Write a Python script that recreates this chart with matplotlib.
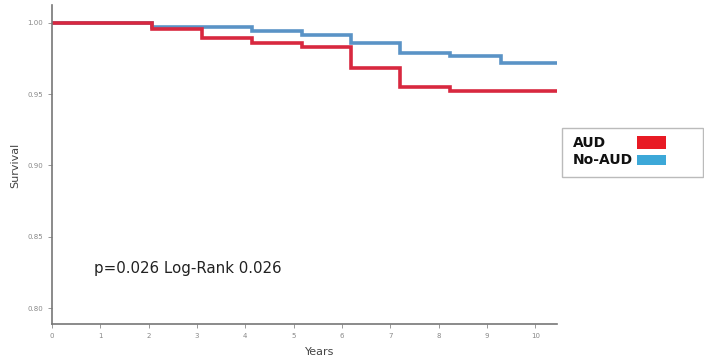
import matplotlib
matplotlib.use("Agg")
import matplotlib.pyplot as plt
from matplotlib.patches import Rectangle

# Data (Kaplan-Meier step values)
aud_times = [0, 2.07, 3.11, 4.14, 5.18, 6.19, 7.21, 8.24, 10.45]
aud_surv = [1.0, 0.9955, 0.989, 0.986, 0.983, 0.968, 0.955, 0.952, 0.952]
noaud_times = [0, 2.07, 4.14, 5.18, 6.19, 7.21, 8.24, 9.3, 10.45]
noaud_surv = [1.0, 0.9972, 0.9944, 0.9914, 0.986, 0.979, 0.9767, 0.9715, 0.9715]
x_ticks = list(range(0, 11))
y_ticks = [0.80, 0.85, 0.90, 0.95, 1.00]
y_tick_labels = ["0.80", "0.85", "0.90", "0.95", "1.00"]
annotation = "p=0.026 Log-Rank 0.026"
legend_labels = ["AUD", "No-AUD"]

fig = plt.figure(figsize=(7.04, 3.61), dpi=100)
W, H = 704, 361
left, right, top, bottom = 52, 557, 5, 324
ax = fig.add_axes([left / W, 1 - bottom / H, (right - left) / W, (bottom - top) / H])

red = "#d8283f"
blue = "#5a93c6"
ax.step(noaud_times, noaud_surv, where="post", color=blue, lw=2.6, solid_joinstyle="miter")
ax.step(aud_times, aud_surv, where="post", color=red, lw=2.6, solid_joinstyle="miter")

ax.set_xlim(0, 10.45)
ax.set_ylim(0.7888, 1.0124)
ax.set_xticks(x_ticks)
ax.set_xticklabels([str(t) for t in x_ticks])
ax.set_yticks(y_ticks)
ax.set_yticklabels(y_tick_labels)
ax.tick_params(axis="both", labelsize=5, colors="#888888", length=3, width=0.6)
for s in ["top", "right"]:
    ax.spines[s].set_visible(False)
for s in ["left", "bottom"]:
    ax.spines[s].set_color("#777777")
    ax.spines[s].set_linewidth(1.2)

fig.text(320 / W, 1 - 352 / H, "Years", fontsize=8, color="#444444", ha="center", va="center")
fig.text(15 / W, 1 - 165 / H, "Survival", fontsize=8, color="#444444", ha="center", va="center",
         rotation=90)

fig.text(94 / W, 1 - 268 / H, annotation, fontsize=10.8, color="#222222", ha="left", va="center")

# Legend drawn manually (text left, swatch right)
fig.patches.append(Rectangle((561.5 / W, 1 - 177 / H), 141 / W, 49.5 / H, transform=fig.transFigure,
                             facecolor="white", edgecolor="#bbbbbb", lw=1.0))
sw_colors = ["#e81a24", "#3ca8d8"]
ys = [143, 160]
sw_h = [13, 10]
for lab, c, yy, hh in zip(legend_labels, sw_colors, ys, sw_h):
    fig.text(572.5 / W, 1 - yy / H, lab, fontsize=10, fontweight="bold", color="#111111",
             ha="left", va="center")
    fig.patches.append(Rectangle((637 / W, 1 - (yy + hh / 2) / H), 29 / W, hh / H,
                                 transform=fig.transFigure, facecolor=c, edgecolor="none"))

fig.savefig("out.png", dpi=100)
